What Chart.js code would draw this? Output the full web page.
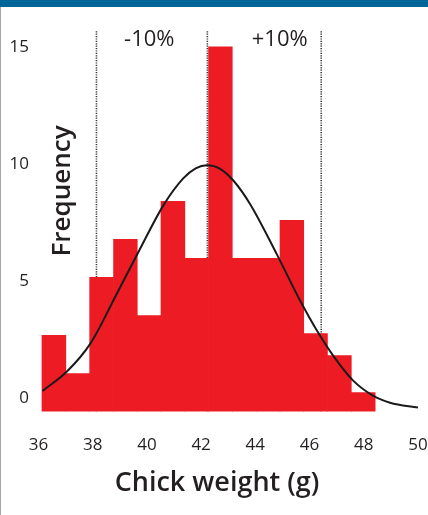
<!DOCTYPE html>
<html>
<head>
<meta charset="utf-8">
<script src="https://cdn.jsdelivr.net/npm/chart.js@4"></script>
<style>
  html, body { margin: 0; padding: 0; background: #fff; }
  #wrap { position: relative; width: 428px; height: 515px; }
  #topBar { position: absolute; left: 0; top: 0; width: 428px; height: 7px; background: #006699; }
  #leftLine { position: absolute; left: 0; top: 7px; width: 1px; height: 508px; background: #a6a6a6; }
</style>
</head>
<body>
<div id="wrap">
  <canvas id="histChart"></canvas>
  <div id="topBar"></div>
  <div id="leftLine"></div>
</div>
<script>
// HISTOGRAM DATA
const binCenters = [36.57, 37.45, 38.33, 39.21, 40.08, 40.96, 41.84, 42.71, 43.59, 44.47, 45.35, 46.22, 47.10, 47.98];
const binCounts = [3.25, 1.62, 5.73, 7.35, 4.10, 8.97, 6.54, 15.56, 6.54, 6.54, 8.16, 3.33, 2.39, 0.81];

// normal curve, points
const curveX = [36.15, 37.06, 37.92, 38.90, 39.64, 40.62, 41.34, 41.80, 42.22, 42.70, 43.18, 43.81, 44.79, 45.65, 46.27, 46.87, 47.61, 48.34, 48.97, 50.0];
const curveY = [0.88, 1.72, 2.91, 5.05, 6.70, 8.82, 9.95, 10.38, 10.51, 10.36, 9.87, 8.85, 6.72, 4.74, 3.46, 2.39, 1.32, 0.68, 0.38, 0.17];

// dotted lines: -10%, mean, +10%
const markerX = [38.14, 42.23, 46.43];
const markerLabels = ['-10%', '+10%'];
const markerLabelX = [40.09, 44.9];

const xTicks = [36, 38, 40, 42, 44, 46, 48, 50];
const yTicks = [0, 5, 10, 15];
const yMax = 16.28;

const textColor = '#231f20';
const barRed = '#ed1c24';

const markerSets = markerX.map(v => ({
  type: 'line',
  data: [{x: v, y: 0}, {x: v, y: yMax}],
  borderColor: '#3a3a3a',
  borderWidth: 1.6,
  borderDash: [1.2, 1.2],
  pointRadius: 0,
  order: 3
}));

const histData = {
  datasets: [{
    type: 'line',
    label: 'Normal',
    data: curveX.map((x, i) => ({x: x, y: curveY[i]})),
    borderColor: '#1a1a1a',
    borderWidth: 2,
    pointRadius: 0,
    cubicInterpolationMode: 'monotone',
    order: 0
  }, {
    type: 'bar',
    label: 'Chicks',
    data: binCenters.map((x, i) => ({x: x, y: binCounts[i]})),
    backgroundColor: barRed,
    borderWidth: 0,
    barThickness: 'flex',
    barPercentage: 1,
    categoryPercentage: 1,
    order: 1
  }, ...markerSets]
};

// annotation texts and the two axis titles
const textLabels = {
  id: 'textLabels',
  afterDraw(chart) {
    const {ctx, scales: {x, y}} = chart;
    ctx.save();
    ctx.fillStyle = textColor;
    ctx.textAlign = 'center';
    ctx.textBaseline = 'middle';
    ctx.font = '22px "Open Sans"';
    markerLabels.forEach((t, i) => {
      ctx.fillText(t, x.getPixelForValue(markerLabelX[i]), y.getPixelForValue(15.85));
    });
    ctx.font = '600 27px "Open Sans"';
    ctx.fillText('Chick weight (g)', 217, 483);
    ctx.translate(63, 191);
    ctx.rotate(-Math.PI / 2);
    ctx.font = '600 26px "Open Sans"';
    ctx.fillText('Frequency', 0, 0);
    ctx.restore();
  }
};

const histConfig = {
  data: histData,
  options: {
    responsive: true,
    maintainAspectRatio: false,
    animation: false,
    layout: {
      padding: {top: 30, left: 0, right: 10, bottom: 60}
    },
    scales: {
      x: {
        type: 'linear',
        offset: false,
        min: 36,
        max: 50,
        afterBuildTicks: s => { s.ticks = xTicks.map(v => ({value: v})); },
        grid: {display: true, drawOnChartArea: false, drawTicks: true, tickLength: 23, color: 'rgba(0,0,0,0)'},
        border: {display: false},
        ticks: {
          padding: 0,
          color: textColor,
          font: {family: 'Open Sans', size: 17}
        }
      },
      y: {
        min: 0,
        max: yMax,
        afterBuildTicks: s => { s.ticks = yTicks.map(v => ({value: v})); },
        grid: {display: false, drawTicks: false},
        border: {display: false},
        ticks: {
          padding: 9.5,
          labelOffset: -13,
          color: textColor,
          font: {family: 'Open Sans', size: 17}
        }
      }
    },
    plugins: {
      legend: {display: false},
      tooltip: {enabled: false}
    }
  },
  plugins: [textLabels]
};

const histChart = new Chart(
  document.getElementById('histChart'),
  histConfig
);
</script>
</body>
</html>
